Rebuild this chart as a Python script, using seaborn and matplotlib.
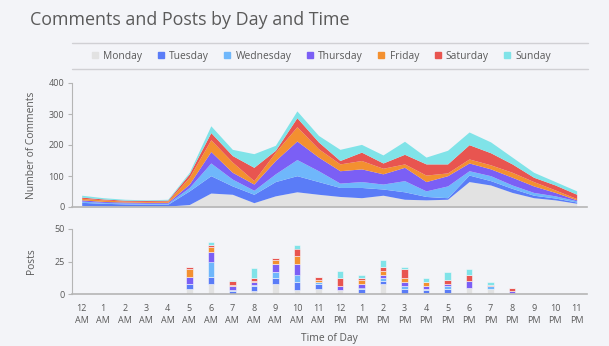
import numpy as np
import pandas as pd
import matplotlib
matplotlib.use("Agg")
import matplotlib.pyplot as plt
import seaborn as sns
from matplotlib.lines import Line2D

days = ["Monday", "Tuesday", "Wednesday", "Thursday", "Friday", "Saturday", "Sunday"]
day_colors = ["#e2e2e2", "#5a7cf7", "#6fb7fb", "#7b5ff5", "#f39030", "#e85550", "#80e3e8"]
hours = list(range(24))
hour_labels = ["12\nAM", "1\nAM", "2\nAM", "3\nAM", "4\nAM", "5\nAM", "6\nAM", "7\nAM",
               "8\nAM", "9\nAM", "10\nAM", "11\nAM", "12\nPM", "1\nPM", "2\nPM", "3\nPM",
               "4\nPM", "5\nPM", "6\nPM", "7\nPM", "8\nPM", "9\nPM", "10\nPM", "11\nPM"]

# Comments per hour (12 AM .. 11 PM)
comments_monday    = [5, 4, 3, 3, 3, 8, 45, 41, 14, 36, 49, 41, 34, 30, 38, 25, 23, 25, 82, 71, 47, 30, 23, 12]
comments_tuesday   = [10, 8, 7, 6, 6, 44, 56, 27, 27, 46, 52, 41, 29, 33, 20, 24, 11, 5, 21, 14, 13, 8, 6, 4]
comments_wednesday = [4, 3, 3, 3, 3, 11, 41, 22, 13, 25, 52, 35, 14, 19, 16, 36, 18, 38, 14, 16, 11, 9, 7, 4]
comments_thursday  = [4, 3, 3, 3, 3, 11, 37, 22, 20, 43, 60, 44, 40, 41, 33, 43, 30, 33, 25, 22, 25, 21, 11, 3]
comments_friday    = [5, 5, 3, 3, 4, 22, 38, 33, 11, 27, 46, 27, 22, 27, 18, 11, 21, 9, 13, 13, 16, 14, 8, 4]
comments_saturday  = [4, 3, 3, 3, 3, 11, 23, 21, 43, 6, 29, 22, 11, 27, 17, 31, 36, 29, 46, 39, 27, 14, 16, 14]
comments_sunday    = [6, 4, 3, 2, 3, 5, 22, 20, 44, 16, 22, 21, 36, 25, 26, 42, 22, 44, 41, 35, 22, 16, 11, 11]

# Posts per hour
posts_monday    = [1, 0, 0, 0, 0, 4, 8, 0, 2, 8, 3, 4, 3, 1, 8, 0, 1, 1, 5, 4, 0, 1, 0, 0]
posts_tuesday   = [0, 0, 0, 0, 1, 4, 5, 2, 4, 4, 6, 4, 0, 3, 2, 4, 2, 3, 0, 0, 1, 0, 0, 0]
posts_wednesday = [0, 0, 0, 0, 0, 0, 12, 1, 1, 5, 6, 1, 0, 1, 2, 2, 1, 2, 0, 2, 0, 0, 0, 0]
posts_thursday  = [0, 0, 0, 0, 0, 5, 7, 3, 2, 6, 8, 0, 3, 3, 3, 3, 2, 2, 5, 0, 1, 0, 0, 0]
posts_friday    = [0, 0, 0, 0, 0, 6, 4, 1, 1, 3, 6, 2, 0, 3, 3, 3, 3, 0, 0, 0, 0, 0, 0, 0]
posts_saturday  = [0, 0, 0, 0, 0, 2, 2, 3, 2, 2, 6, 2, 6, 1, 3, 7, 0, 3, 5, 1, 3, 0, 0, 0]
posts_sunday    = [0, 0, 0, 0, 0, 0, 2, 1, 8, 0, 3, 0, 6, 3, 5, 2, 3, 6, 4, 2, 0, 0, 0, 0]

comments = [comments_monday, comments_tuesday, comments_wednesday, comments_thursday,
            comments_friday, comments_saturday, comments_sunday]
posts = [posts_monday, posts_tuesday, posts_wednesday, posts_thursday,
         posts_friday, posts_saturday, posts_sunday]

def long_df(series):
    rows = []
    for d, vals in zip(days, series):
        for h, v in zip(hours, vals):
            rows.append({"hour": h, "day": d, "count": v})
    return pd.DataFrame(rows)

df_c = long_df(comments)
df_p = long_df(posts)

bg = "#f3f4f8"
txt = "#595959"
spine_c = "#b5b5b5"

sns.set_style("white")
plt.rcParams["font.family"] = ["Open Sans", "DejaVu Sans"]

fig = plt.figure(figsize=(6.09, 3.46), dpi=100, facecolor=bg)
W, H = 609, 346

def ax_rect(x0, x1, y_top, y_bot):
    return [x0 / W, 1 - y_bot / H, (x1 - x0) / W, (y_bot - y_top) / H]

ax1 = fig.add_axes(ax_rect(72, 587, 83, 207), facecolor=bg)
ax2 = fig.add_axes(ax_rect(72, 587, 229, 294), facecolor=bg)

palette = dict(zip(days, day_colors))
order = days[::-1]

sns.histplot(data=df_c, x="hour", weights="count", hue="day", hue_order=order,
             multiple="stack", element="poly", discrete=True, palette=palette,
             alpha=1, linewidth=0, legend=False, ax=ax1)

sns.histplot(data=df_p, x="hour", weights="count", hue="day", hue_order=order,
             multiple="stack", element="bars", discrete=True, shrink=0.3,
             palette=palette, alpha=1, linewidth=0.4, edgecolor="#f7f7fa",
             legend=False, ax=ax2)

xlim = (-0.45, 23.48)
for ax in (ax1, ax2):
    ax.set_xlim(*xlim)
    for s in ("top", "right"):
        ax.spines[s].set_visible(False)
    ax.spines["left"].set_color(spine_c)
    ax.spines["bottom"].set_color(spine_c)
    ax.spines["left"].set_linewidth(0.8)
    ax.spines["bottom"].set_linewidth(1.2)
    ax.tick_params(axis="y", colors=spine_c, labelcolor=txt, labelsize=6.5,
                   length=3, width=0.8, direction="out", left=True, pad=2.5)
    ax.grid(False)

ax1.set_ylim(0, 400)
ax1.set_yticks([0, 100, 200, 300, 400])
ax1.set_xticks([])
ax1.set_xlabel("")
ax1.set_ylabel("Number of Comments", color=txt, fontsize=7.4, labelpad=8)

ax2.set_ylim(0, 50)
ax2.set_yticks([0, 25, 50])
ax2.set_xticks(hours)
ax2.set_xticklabels(hour_labels, linespacing=1.45)
ax2.tick_params(axis="x", length=0, labelsize=6.5, labelcolor=txt, pad=7)
ax2.set_xlabel("Time of Day", color=txt, fontsize=7.4, labelpad=6)
ax2.set_ylabel("Posts", color=txt, fontsize=7.4, labelpad=12)

fig.text(30 / W, 1 - 20 / H, "Comments and Posts by Day and Time",
         fontsize=12.9, color="#5a5a5a", ha="left", va="center")

for yy in (43, 69):
    fig.add_artist(Line2D([72 / W, 588 / W], [1 - yy / H, 1 - yy / H],
                          color="#d0d0d4", lw=1.0))

handles = [Line2D([], [], marker="s", linestyle="none", markersize=5,
                  markerfacecolor=c, markeredgecolor=c) for c in day_colors]
leg = fig.legend(handles, days, loc="center", bbox_to_anchor=(321 / W, 1 - 56 / H),
                 ncol=7, frameon=False, fontsize=7.4, handlelength=0.8,
                 handletextpad=0.4, columnspacing=1.4)
for t in leg.get_texts():
    t.set_color(txt)

fig.savefig("out.png", dpi=100, facecolor=bg)
